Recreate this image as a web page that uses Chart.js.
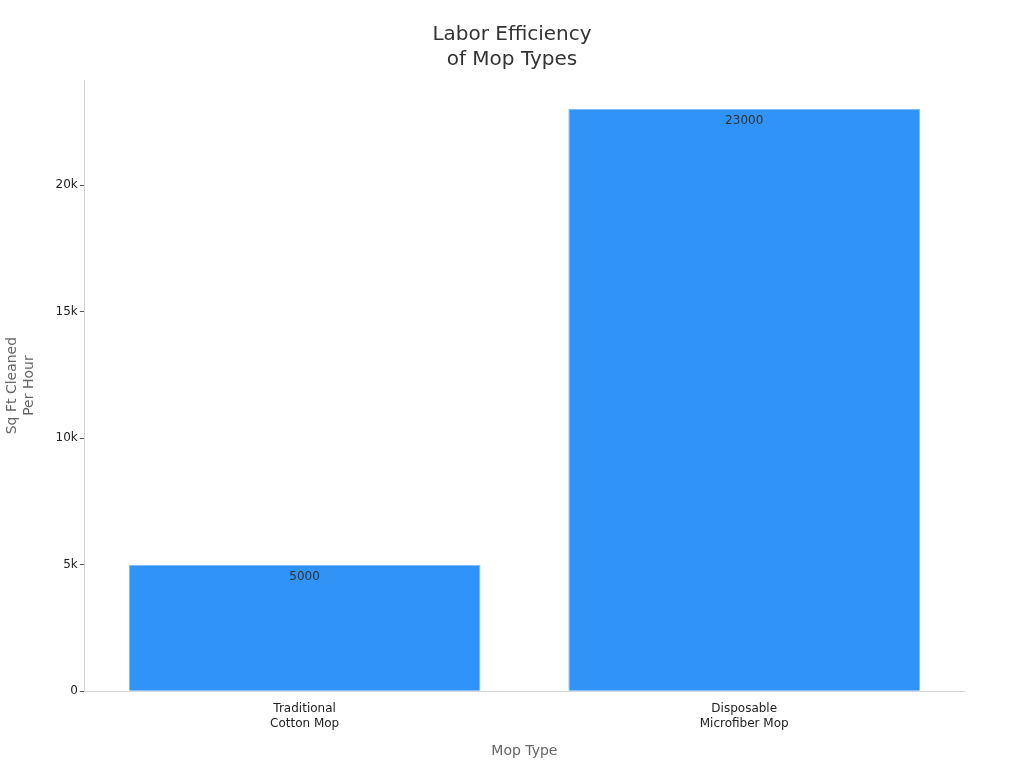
<!DOCTYPE html>
<html>
<head>
<meta charset="utf-8">
<script src="https://cdn.jsdelivr.net/npm/chart.js@4"></script>
<style>
  html, body { margin: 0; padding: 0; background: #fff; }
  #wrap { width: 1024px; height: 768px; }
</style>
</head>
<body>
<div id="wrap"><canvas id="chart" width="1024" height="768"></canvas></div>
<script>
const categories = [['Traditional', 'Cotton Mop'], ['Disposable', 'Microfiber Mop']];
const sqFtPerHour = [5000, 23000];
const yTicks = [0, 5000, 10000, 15000, 20000];

// value labels drawn just inside the top of each bar
const barLabels = {
  id: 'barLabels',
  afterDatasetsDraw(chart) {
    const ctx = chart.ctx;
    const meta = chart.getDatasetMeta(0);
    ctx.save();
    ctx.font = '12px "DejaVu Sans"';
    ctx.fillStyle = '#333';
    ctx.textAlign = 'center';
    ctx.textBaseline = 'top';
    meta.data.forEach((bar, i) => {
      ctx.fillText(String(sqFtPerHour[i]), bar.x, bar.y + 6);
    });
    ctx.restore();
  }
};

Chart.defaults.font.family = '"DejaVu Sans", sans-serif';

new Chart(document.getElementById('chart'), {
  type: 'bar',
  data: {
    labels: categories,
    datasets: [{
      data: sqFtPerHour,
      backgroundColor: '#2f93f8',
      borderColor: '#7dbcf8',
      borderWidth: 1,
      barPercentage: 0.8,
      categoryPercentage: 1
    }]
  },
  options: {
    responsive: false,
    animation: false,
    layout: { padding: { left: 0, right: 0, top: 8, bottom: 4 } },
    plugins: {
      legend: { display: false },
      tooltip: { enabled: false },
      title: {
        display: true,
        text: ['Labor Efficiency', 'of Mop Types'],
        color: '#333',
        font: { size: 20, weight: 'normal', lineHeight: 1.25 },
        padding: { top: 14, bottom: 8 }
      }
    },
    scales: {
      x: {
        grid: { display: false, drawTicks: true, tickLength: 5, tickColor: '#555' },
        border: { color: '#d6d6d6' },
        ticks: { color: '#222', font: { size: 12, lineHeight: 1.25 }, padding: 5 },
        title: { display: true, text: 'Mop Type', color: '#666', font: { size: 14 }, padding: { top: 7 } }
      },
      y: {
        min: 0,
        max: 24150,
        afterBuildTicks(axis) { axis.ticks = yTicks.map(v => ({ value: v })); },
        grid: { display: true, drawOnChartArea: false, tickLength: 5, tickColor: '#555' },
        border: { color: '#d6d6d6' },
        ticks: {
          color: '#222',
          font: { size: 12 },
          padding: 2,
          callback: v => v === 0 ? '0' : (v / 1000) + 'k'
        },
        title: { display: true, text: ['Sq Ft Cleaned', 'Per Hour'], color: '#666', font: { size: 14 }, padding: { bottom: 16 } }
      },
      // empty right axis only reserves the right margin so the title stays centred on the page
      yRight: {
        position: 'right',
        grid: { display: false },
        border: { display: false },
        ticks: { display: false },
        afterFit(axis) { axis.width = 60; }
      }
    }
  },
  plugins: [barLabels]
});
</script>
</body>
</html>
